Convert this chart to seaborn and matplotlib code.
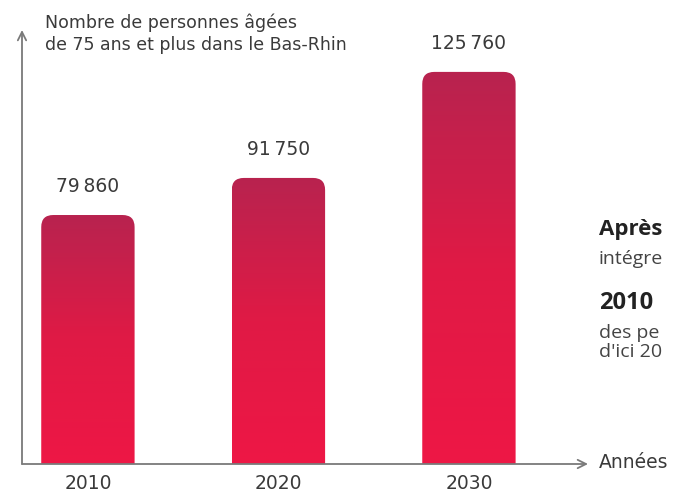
import numpy as np
import pandas as pd
import matplotlib
matplotlib.use('Agg')
import matplotlib.pyplot as plt
import seaborn as sns
from matplotlib.patches import FancyBboxPatch
from matplotlib.colors import LinearSegmentedColormap

years = ['2010', '2020', '2030']
personnes = [79860, 91750, 125760]
labels = ['79\u2009860', '91\u2009750', '125\u2009760']

df = pd.DataFrame({'Année': years, 'Personnes': personnes})

sns.set_style('white')
plt.rcParams['font.family'] = ['DejaVu Sans']

fig = plt.figure(figsize=(6.73, 4.94), dpi=100)
ax = fig.add_axes([22 / 673, 30 / 494, 566 / 673, 434 / 494])

sns.barplot(x='Année', y='Personnes', data=df, color='#d81e48', width=0.49, ax=ax)
ax.set_xlim(-0.346, 2.625)
ax.set_ylim(0, 139200)

# gradient fill with rounded tops
cmap = LinearSegmentedColormap.from_list('rouge', ['#ee1745', '#e01a45', '#b8234f'])
grad = np.linspace(0, 1, 256).reshape(-1, 1)
px_x = 190.5  # px per category unit
px_y = 434 / 139200
for bar in ax.patches:
    x0, w, h = bar.get_x(), bar.get_width(), bar.get_height()
    bar.set_visible(False)
    r = 12 / px_x
    box = FancyBboxPatch((x0 + r, -20000), w - 2 * r, h + 20000 - r * px_x / px_y,
                         boxstyle=f'round,pad={r}', mutation_aspect=px_x / px_y,
                         facecolor='none', edgecolor='none', transform=ax.transData)
    ax.add_patch(box)
    im = ax.imshow(grad, cmap=cmap, aspect='auto', origin='lower',
                   extent=[x0, x0 + w, 0, h], zorder=2)
    im.set_clip_path(box)

for i, lab in enumerate(labels):
    ax.text(i, personnes[i] + 9000, lab, ha='center', va='center',
            fontsize=13.5, color='#3a3a3a')

for s in ax.spines.values():
    s.set_visible(False)
ax.set_xlabel('')
ax.set_ylabel('')
ax.set_yticks([])
ax.tick_params(axis='x', length=0, pad=7, labelsize=13.5, labelcolor='#3a3a3a')

axis_col = '#7a7a7a'
ax.annotate('', xy=(0, 1.0), xytext=(0, 0), xycoords='axes fraction',
            arrowprops=dict(arrowstyle='->', color=axis_col, lw=1.3,
                            shrinkA=0, shrinkB=0, mutation_scale=15))
ax.annotate('', xy=(1.0, 0), xytext=(0, 0), xycoords='axes fraction',
            arrowprops=dict(arrowstyle='->', color=axis_col, lw=1.3,
                            shrinkA=0, shrinkB=0, mutation_scale=15))

fig.text(45 / 673, 1 - 34 / 494, 'Nombre de personnes âgées\nde 75 ans et plus dans le Bas-Rhin',
         ha='left', va='center', fontsize=12.5, color='#3a3a3a', linespacing=1.3)
fig.text(599 / 673, 1 - 462 / 494, 'Années', ha='left', va='center',
         fontsize=13.5, color='#3a3a3a')

# side text, cut off by the frame in the source
side_font = ['Open Sans', 'DejaVu Sans']
fig.text(599 / 673, 1 - 229 / 494, 'Après', ha='left', va='center',
         fontsize=16, fontweight='bold', color='#222222', family=side_font)
fig.text(599 / 673, 1 - 259 / 494, 'intégre', ha='left', va='center',
         fontsize=14, color='#444444', family=side_font)
fig.text(599 / 673, 1 - 303 / 494, '2010', ha='left', va='center',
         fontsize=17, fontweight='bold', color='#222222', family=side_font)
fig.text(599 / 673, 1 - 333 / 494, 'des pe', ha='left', va='center',
         fontsize=14, color='#444444', family=side_font)
fig.text(599 / 673, 1 - 352 / 494, "d'ici 20", ha='left', va='center',
         fontsize=14, color='#444444', family=side_font)

fig.savefig('out.png', dpi=100, facecolor='white')
